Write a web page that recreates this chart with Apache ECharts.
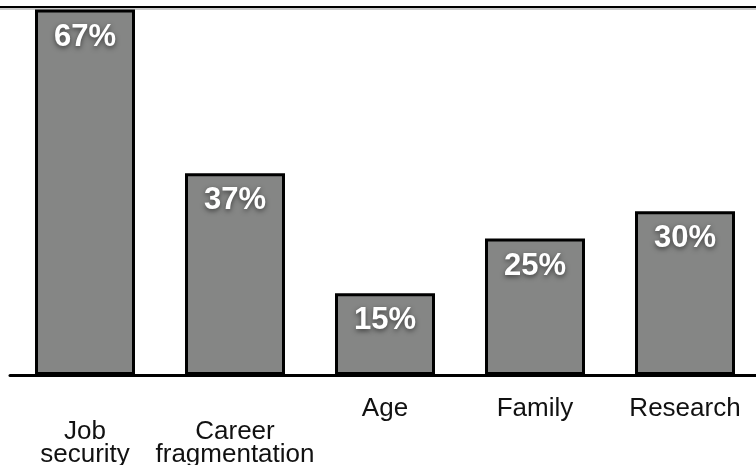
<!DOCTYPE html>
<html>
<head>
<meta charset="utf-8">
<script src="https://cdn.jsdelivr.net/npm/echarts@6/dist/echarts.min.js"></script>
<style>
  html, body { margin: 0; padding: 0; background: #fff; }
  #chart { width: 756px; height: 465px; }
</style>
</head>
<body>
<div id="chart"></div>
<script>
// reasons given, share of respondents (%)
const categories = ['Job\nsecurity', 'Career\nfragmentation', 'Age', 'Family', 'Research']
const shares = [67, 37, 15, 25, 30]

const font = '"Liberation Sans", Arial, Helvetica, sans-serif'

const chart = echarts.init(document.getElementById('chart'))

chart.setOption({
  animation: false,
  backgroundColor: '#fff',
  grid: { left: 10, right: -4, top: 4, bottom: 90, containLabel: false, outerBoundsMode: 'none' },
  xAxis: {
    type: 'category',
    data: categories,
    axisLine: { lineStyle: { color: '#000', width: 3 } },
    axisTick: { show: false },
    axisLabel: {
      color: '#111',
      fontFamily: font,
      fontSize: 26,
      lineHeight: 23,
      margin: 22,
      verticalAlign: 'top',
      interval: 0,
      hideOverlap: false,
      // two-line labels sit one line lower than the single ones
      formatter: v => (v.indexOf('\n') >= 0 ? '\n' + v : v)
    }
  },
  yAxis: {
    type: 'value',
    min: 0,
    max: 68,
    show: false,
    splitLine: { show: false }
  },
  series: [{
    type: 'bar',
    data: shares,
    barWidth: 100,
    itemStyle: { color: '#858685', borderColor: '#000', borderWidth: 3 },
    label: {
      show: true,
      position: 'insideTop',
      distance: 12,
      formatter: '{c}%',
      color: '#fff',
      fontFamily: font,
      fontWeight: 'bold',
      fontSize: 31,
      textShadowColor: 'rgba(0,0,0,0.55)',
      textShadowBlur: 5,
      textShadowOffsetY: 2
    }
  }],
  graphic: [
    { type: 'line', shape: { x1: 0, y1: 7, x2: 756, y2: 7 }, style: { stroke: '#000', lineWidth: 2 } },
    { type: 'line', shape: { x1: 0, y1: 9, x2: 756, y2: 9 }, style: { stroke: '#999', lineWidth: 1 } }
  ]
})

window.addEventListener('resize', () => {
  chart.resize()
})
</script>
</body>
</html>
